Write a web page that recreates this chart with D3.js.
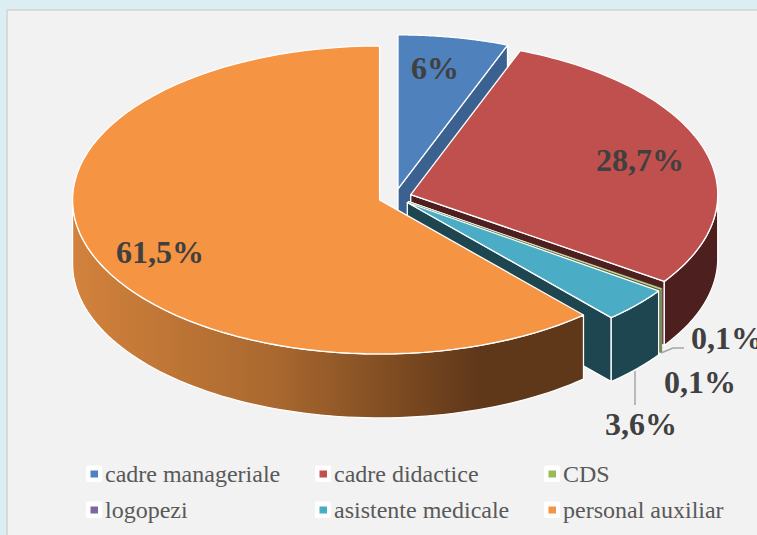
<!DOCTYPE html>
<html>
<head>
<meta charset="utf-8">
<script src="https://cdn.jsdelivr.net/npm/d3@7"></script>
<style>
  html, body { margin: 0; padding: 0; background: #dbeef4; }
  svg { display: block; }
  text { font-family: "Liberation Serif", serif; }
</style>
</head>
<body>
<div id="chart"></div>
<script>
  const categories = ["cadre manageriale", "cadre didactice", "CDS", "logopezi", "asistente medicale", "personal auxiliar"]
  //slice sizes as measured on the picture, the printed labels are rounded
  const values = [5.8, 28.7, 0.1, 0.1, 3.7, 61.5]
  const valueLabels = ["6%", "28,7%", "0,1%", "0,1%", "3,6%", "61,5%"]
  const topColors = ["#4f81bd", "#c0504d", "#9bbb59", "#8064a2", "#4bacc6", "#f59443"]
  const sideColors = ["#3a6190", "#4d1f1f", "#4f6228", "#3f3151", "#1d4651", "#653a1a"]
  //back to front, the green sliver ends up on top of the purple one
  const paintOrder = [0, 1, 3, 2, 4, 5]

  const width = 757
  const height = 535
  const pieBox = { cx: 395, cy: 197, rx: 307, ry: 154, depth: 64, explode: 16.5 }

  //label positions, middle of the text
  const labelPos = [
    { x: 435, y: 68 }, { x: 640, y: 160 }, { x: 727, y: 338 },
    { x: 700, y: 382 }, { x: 641, y: 424 }, { x: 160, y: 252 }
  ]
  const legendCols = [105, 334, 563]
  const legendRows = [475, 511]

  const svg = d3.select("#chart").append("svg")
    .attr("width", width)
    .attr("height", height)

  svg.append("rect")
    .attr("x", 7).attr("y", 10)
    .attr("width", width).attr("height", height)
    .attr("fill", "#f2f2f2")
    .attr("stroke", "#d9d9d9")
    .attr("stroke-width", 2)

  const defs = svg.append("defs")
  const wallGrad = defs.append("linearGradient")
    .attr("id", "orange-wall")
    .attr("gradientUnits", "userSpaceOnUse")
    .attr("x1", 73).attr("x2", 480)
    .attr("y1", 0).attr("y2", 0)
  wallGrad.append("stop").attr("offset", 0).attr("stop-color", "#d2823c")
  wallGrad.append("stop").attr("offset", 0.5).attr("stop-color", "#a9682f")
  wallGrad.append("stop").attr("offset", 1).attr("stop-color", "#5f3719")

  const slices = d3.pie().sort(null).value(d => d)(values)

  //ellipse point for an angle, 0 at the top and going clockwise
  function rimPoint(c, a) {
    return [c.x + pieBox.rx * Math.sin(a), c.y - pieBox.ry * Math.cos(a)]
  }

  function arcPoints(c, a0, a1) {
    return d3.range(0, 81).map(i => rimPoint(c, a0 + (a1 - a0) * i / 80))
  }

  const line = d3.line()
  const g = svg.append("g")

  function face(points, fill, strokeWidth) {
    g.append("path")
      .attr("d", line(points) + "Z")
      .attr("fill", fill)
      .attr("stroke", "#ffffff")
      .attr("stroke-width", strokeWidth)
      .attr("stroke-linejoin", "round")
  }

  function lower(points) {
    return points.map(p => [p[0], p[1] + pieBox.depth]).reverse()
  }

  paintOrder.forEach(i => {
    const s = slices[i]
    const mid = (s.startAngle + s.endAngle) / 2
    const c = {
      x: pieBox.cx + pieBox.explode * Math.sin(mid),
      y: pieBox.cy - pieBox.explode * 0.5 * Math.cos(mid)
    }
    const sideFill = i === 5 ? "url(#orange-wall)" : sideColors[i]
    //the green sliver would vanish under a full white outline
    const sw = i === 2 ? 0.3 : 1.3

    //end face, only seen if it looks down at us
    if (s.endAngle < Math.PI) {
      const edge = [[c.x, c.y], rimPoint(c, s.endAngle)]
      face(edge.concat(lower(edge)), sideFill, sw)
    }
    //outer wall, only the front half of the ellipse
    const a0 = Math.max(s.startAngle, Math.PI / 2)
    const a1 = Math.min(s.endAngle, Math.PI * 1.5)
    if (a1 > a0) {
      const rim = arcPoints(c, a0, a1)
      face(rim.concat(lower(rim)), sideFill, sw)
    }
    //top
    face([[c.x, c.y]].concat(arcPoints(c, s.startAngle, s.endAngle)), topColors[i], sw)
  })

  //leader lines
  const leaders = [
    { i: 3, pts: [[661, 353], [673, 348], [684, 348]] },
    { i: 4, pts: [[635, 371], [635, 405]] }
  ]
  leaders.forEach(l => {
    svg.append("path")
      .attr("d", line(l.pts))
      .attr("fill", "none")
      .attr("stroke", "#a6a6a6")
      .attr("stroke-width", 1.5)
  })

  svg.selectAll(".value-label")
    .data(valueLabels)
    .join("text")
    .attr("class", "value-label")
    .attr("x", (d, i) => labelPos[i].x)
    .attr("y", (d, i) => labelPos[i].y)
    .attr("text-anchor", "middle")
    .attr("dominant-baseline", "central")
    .attr("font-size", 32)
    .attr("font-weight", "bold")
    .attr("fill", "#404040")
    .text(d => d)

  const legend = svg.selectAll(".legend-item")
    .data(categories)
    .join("g")
    .attr("class", "legend-item")
    .attr("transform", (d, i) => "translate(" + legendCols[i % 3] + "," + legendRows[Math.floor(i / 3)] + ")")

  legend.append("rect")
    .attr("x", -19).attr("y", -9.5)
    .attr("width", 16).attr("height", 16.5)
    .attr("rx", 2)
    .attr("fill", "#ffffff")
  legend.append("rect")
    .attr("x", -14.5).attr("y", -4.5)
    .attr("width", 7.5).attr("height", 7)
    .attr("fill", (d, i) => topColors[i])
  legend.append("text")
    .attr("x", 0).attr("y", 7)
    .attr("font-size", 24)
    .attr("fill", "#595959")
    .text(d => d)
</script>
</body>
</html>
